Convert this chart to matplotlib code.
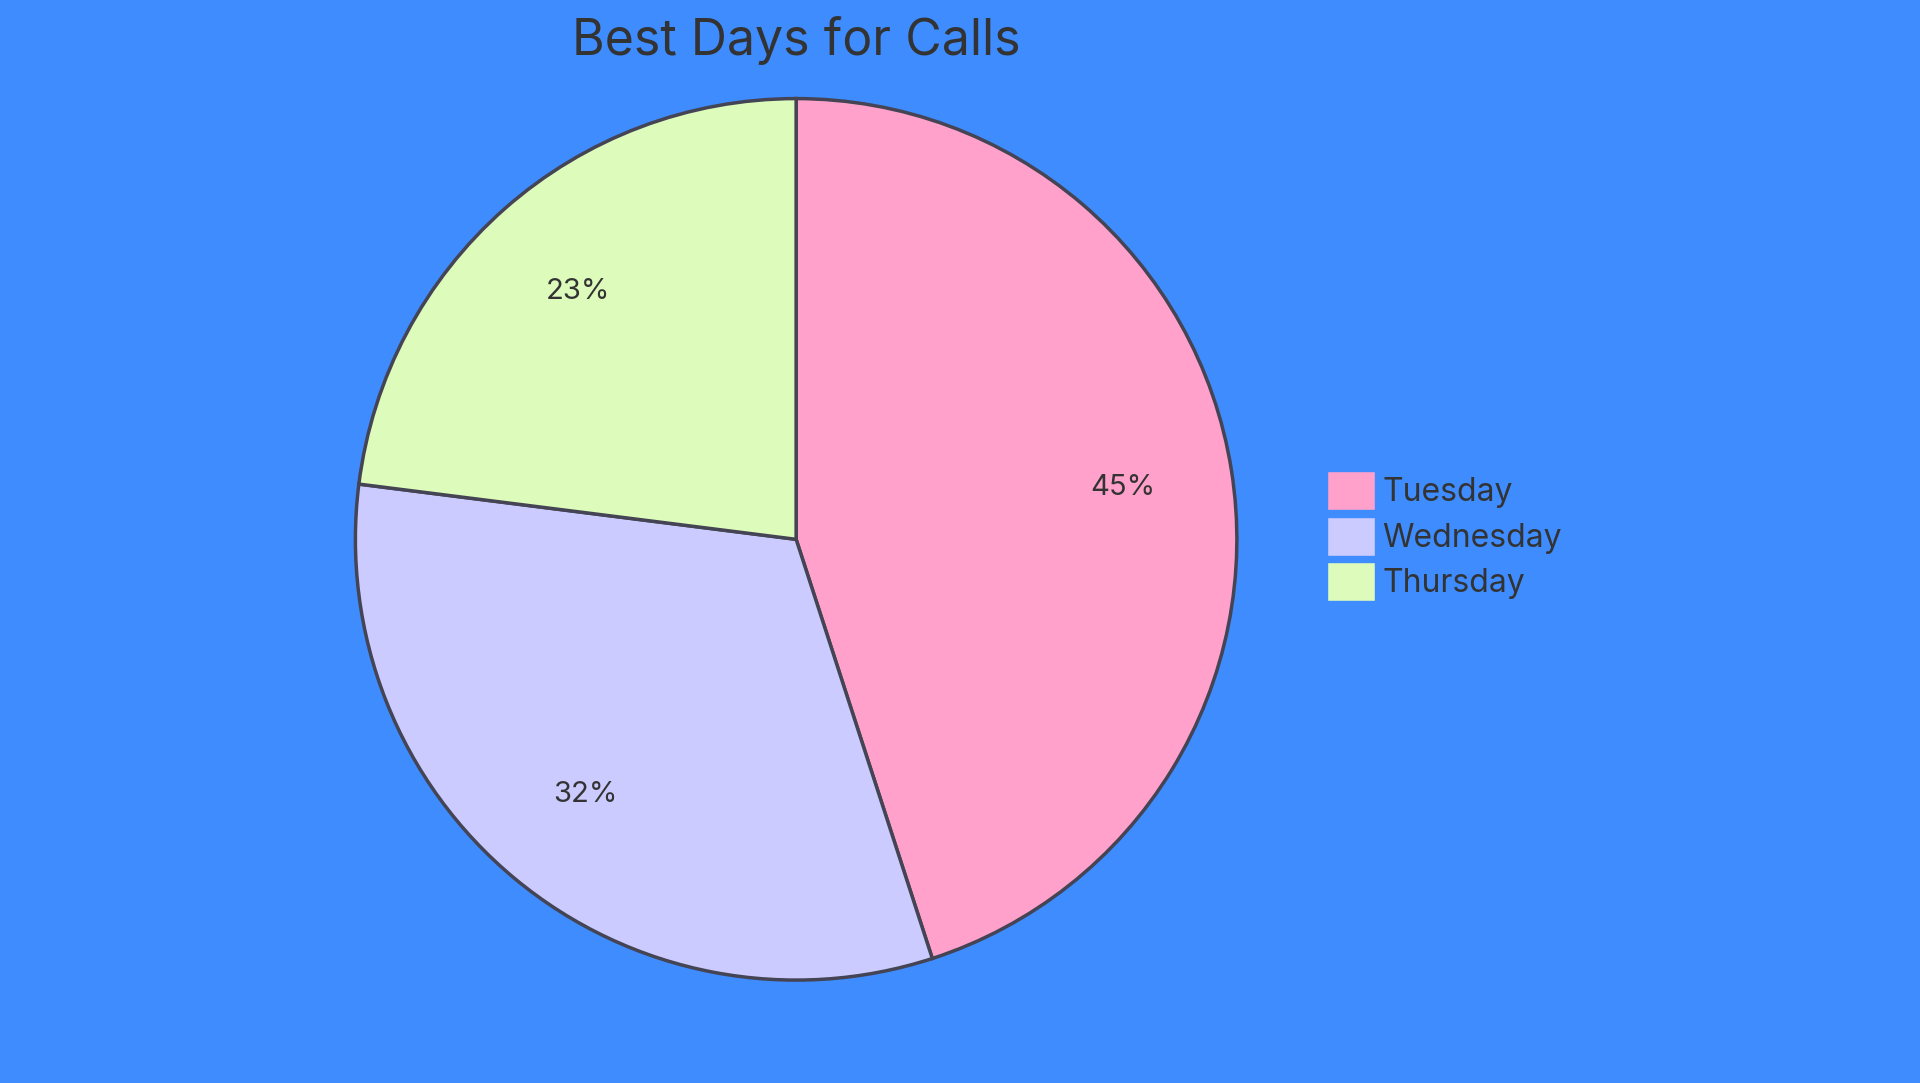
import matplotlib
matplotlib.use("Agg")
import matplotlib.pyplot as plt
from matplotlib.patches import Patch

labels = ["Tuesday", "Wednesday", "Thursday"]
values = [45, 32, 23]
colors = ["#FFA1CB", "#CBCBFF", "#DDFBBB"]
bg = "#3F8CFF"
txt = "#333333"

plt.rcParams['font.family'] = ['Inter', 'DejaVu Sans']
fig = plt.figure(figsize=(19.2, 10.83), dpi=100, facecolor=bg)
ax = fig.add_axes([0.4146 - 0.2307, 0.502 - 0.409, 0.4615, 0.818])
ax.set_facecolor(bg)
ax.pie(values, colors=colors, startangle=90, counterclock=False,
       autopct=lambda p: f"{p:.0f}%", pctdistance=0.75,
       wedgeprops=dict(edgecolor="#444455", linewidth=2.5),
       textprops=dict(fontsize=21, color=txt))
ax.set_xlim(-1.005, 1.005)
ax.set_ylim(-1.005, 1.005)
ax.set_aspect("equal")
fig.text(0.4146, 0.963, "Best Days for Calls", ha="center", va="center",
         fontsize=36, color=txt)
handles = [Patch(facecolor=c, edgecolor=bg, label=l) for c, l in zip(colors, labels)]
fig.legend(handles=handles, loc="center left", bbox_to_anchor=(0.676, 0.505),
           frameon=False, fontsize=23, labelcolor=txt, handlelength=1.5,
           handleheight=1.5, handletextpad=0.25, labelspacing=0.2)
fig.savefig("out.png", dpi=100, facecolor=bg)
